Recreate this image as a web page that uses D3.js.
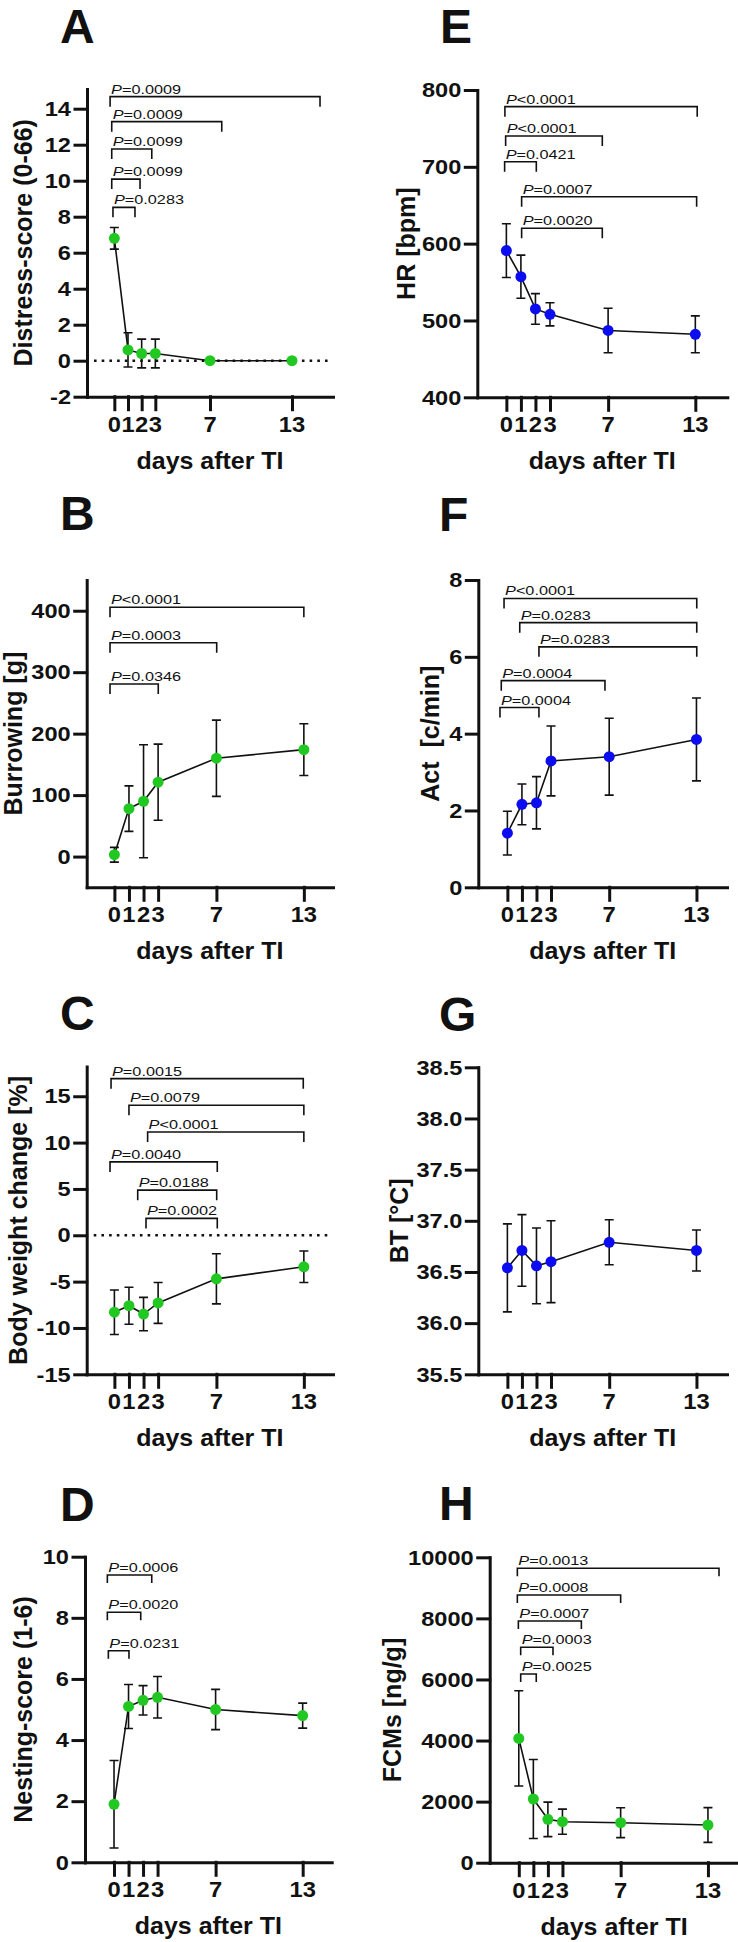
<!DOCTYPE html>
<html><head><meta charset="utf-8">
<script src="https://cdn.jsdelivr.net/npm/d3@7"></script>
<style>body{margin:0;background:#fff;} svg{display:block;}</style>
</head><body>
<script>
// ---------- DATA ----------
const days = [0, 1, 2, 3, 7, 13];

const distressMean = [6.8, 0.6, 0.4, 0.4, 0, 0];
const distressErr  = [0.6, 0.95, 0.8, 0.8, 0, 0];
const distressTicks = [-2, 0, 2, 4, 6, 8, 10, 12, 14];
const distressBrackets = [
  [-0.31, 15.05, 14.67, "P=0.0009"],
  [-0.19, 7.86, 13.28, "P=0.0009"],
  [-0.19, 2.74, 11.76, "P=0.0099"],
  [-0.19, 1.88, 10.09, "P=0.0099"],
  [-0.10, 1.51, 8.52, "P=0.0283"]
];

const burrowMean = [3, 78, 90, 121, 160, 174];
const burrowErr  = [12, 37, 92, 62, 62, 42];
const burrowTicks = [0, 100, 200, 300, 400];
const burrowBrackets = [
  [-0.3, 13.0, 405.6, "P<0.0001"],
  [-0.3, 7.02, 348, "P=0.0003"],
  [-0.3, 3.01, 280.8, "P=0.0346"]
];

const weightMean = [-8.3, -7.6, -8.5, -7.3, -4.7, -3.4];
const weightErr  = [2.4, 2.0, 1.8, 2.2, 2.7, 1.7];
const weightTicks = [-15, -10, -5, 0, 5, 10, 15];
const weightBrackets = [
  [-0.23, 12.96, 16.9, "P=0.0015"],
  [1.0, 13.0, 14.03, "P=0.0079"],
  [2.28, 13.0, 11.15, "P<0.0001"],
  [-0.3, 7.06, 7.92, "P=0.0040"],
  [1.6, 7.02, 4.87, "P=0.0188"],
  [2.17, 7.06, 1.82, "P=0.0002"]
];

const nestMean = [1.9, 5.1, 5.3, 5.4, 5.0, 4.8];
const nestErr  = [1.43, 0.72, 0.48, 0.68, 0.66, 0.41];
const nestTicks = [0, 2, 4, 6, 8, 10];
const nestBrackets = [
  [-0.46, 2.6, 9.4, "P=0.0006"],
  [-0.46, 1.84, 8.18, "P=0.0020"],
  [-0.39, 1.03, 6.92, "P=0.0231"]
];

const hrMean = [591, 557, 515, 508, 487, 482];
const hrErr  = [35, 28, 20, 15, 29, 24];
const hrTicks = [400, 500, 600, 700, 800];
const hrBrackets = [
  [-0.1, 13.13, 778.3, "P<0.0001"],
  [-0.05, 6.6, 740.1, "P<0.0001"],
  [-0.12, 2.06, 706.7, "P=0.0421"],
  [1.05, 13.09, 661.1, "P=0.0007"],
  [1.05, 6.6, 620, "P=0.0020"]
];

const actMean = [1.41, 2.16, 2.2, 3.29, 3.4, 3.85];
const actErr  = [0.57, 0.53, 0.68, 0.91, 1.0, 1.08];
const actTicks = [0, 2, 4, 6, 8];
const actBrackets = [
  [-0.23, 13.02, 7.52, "P<0.0001"],
  [0.85, 13.02, 6.89, "P=0.0283"],
  [2.17, 13.02, 6.26, "P=0.0283"],
  [-0.42, 6.71, 5.38, "P=0.0004"],
  [-0.51, 2.17, 4.68, "P=0.0004"]
];

const btMean = [36.54, 36.71, 36.56, 36.6, 36.79, 36.71];
const btErr  = [0.43, 0.35, 0.37, 0.4, 0.22, 0.2];
const btTicks = [35.5, 36.0, 36.5, 37.0, 37.5, 38.0, 38.5];
const btBrackets = [];

const fcmMean = [4070, 2086, 1420, 1343, 1310, 1234];
const fcmErr  = [1560, 1295, 565, 410, 490, 570];
const fcmTicks = [0, 2000, 4000, 6000, 8000, 10000];
const fcmBrackets = [
  [-0.1, 13.76, 9641, "P=0.0013"],
  [-0.1, 7.0, 8767, "P=0.0008"],
  [-0.03, 4.3, 7916, "P=0.0007"],
  [0.13, 2.35, 7054, "P=0.0003"],
  [0.13, 1.2, 6180, "P=0.0025"]
];

// ---------- STYLE / LAYOUT ----------
const GREEN = "#22c822", BLUE = "#0c0cf0", INK = "#111";
const FONT = "'Liberation Sans', Arial, Helvetica, sans-serif";
const intFmt = v => String(v);
const oneDec = v => v.toFixed(1);

const panels = [
  {letter:"A", mean:distressMean, err:distressErr, ticks:distressTicks, brackets:distressBrackets, color:GREEN,
   yTitle:"Distress-score (0-66)", xDom:[-2,16], xRng:[87,333], yDom:[-2,15.1], yRng:[396.7,88.9],
   letterPos:[60,43], yTitleX:23, zero:true, leg:10, fmt:intFmt},
  {letter:"B", mean:burrowMean, err:burrowErr, ticks:burrowTicks, brackets:burrowBrackets, color:GREEN,
   yTitle:"Burrowing [g]", xDom:[-1.9,15], xRng:[86.7,333], yDom:[-50,450], yRng:[887.3,580],
   letterPos:[60,530], yTitleX:13, zero:false, leg:10, fmt:intFmt},
  {letter:"C", mean:weightMean, err:weightErr, ticks:weightTicks, brackets:weightBrackets, color:GREEN,
   yTitle:"Body weight change [%]", xDom:[-1.9,15], xRng:[86.7,333], yDom:[-15,18.2], yRng:[1374.3,1066.6],
   letterPos:[60,1030], yTitleX:18, zero:true, leg:10, fmt:intFmt},
  {letter:"D", mean:nestMean, err:nestErr, ticks:nestTicks, brackets:nestBrackets, color:GREEN,
   yTitle:"Nesting-score (1-6)", xDom:[-2,15], xRng:[85,331.7], yDom:[0,10], yRng:[1862.3,1556.7],
   letterPos:[60,1521], yTitleX:23, zero:false, leg:8, fmt:intFmt},
  {letter:"E", mean:hrMean, err:hrErr, ticks:hrTicks, brackets:hrBrackets, color:BLUE,
   yTitle:"HR [bpm]", xDom:[-2,15.2], xRng:[477.3,727.3], yDom:[400,800], yRng:[397.3,90],
   letterPos:[440,43], yTitleX:406, zero:false, leg:10, fmt:intFmt},
  {letter:"F", mean:actMean, err:actErr, ticks:actTicks, brackets:actBrackets, color:BLUE,
   yTitle:"Act  [c/min]", xDom:[-2,15.1], xRng:[478.3,727], yDom:[0,8], yRng:[887.3,580],
   letterPos:[439,531], yTitleX:430, zero:false, leg:10, fmt:intFmt},
  {letter:"G", mean:btMean, err:btErr, ticks:btTicks, brackets:btBrackets, color:BLUE,
   yTitle:"BT [°C]", xDom:[-2,15.1], xRng:[478.3,727], yDom:[35.5,38.5], yRng:[1374.3,1067.3],
   letterPos:[439,1031], yTitleX:399, zero:false, leg:10, fmt:oneDec},
  {letter:"H", mean:fcmMean, err:fcmErr, ticks:fcmTicks, brackets:fcmBrackets, color:GREEN,
   yTitle:"FCMs [ng/g]", xDom:[-2,15.1], xRng:[489.7,738.5], yDom:[0,10000], yRng:[1862.7,1557.3],
   letterPos:[439,1520], yTitleX:392, zero:false, leg:8, fmt:intFmt}
];

const svg = d3.select("body").append("svg")
  .attr("width", 738).attr("height", 1942)
  .style("font-family", FONT);

function stext(g, x, y, str, o) {
  const t = g.append("text")
    .attr("transform", `translate(${x},${y}) scale(${o.sx || 1},1)`)
    .attr("text-anchor", o.anchor || "start")
    .attr("font-size", o.size)
    .attr("font-weight", o.weight || "normal")
    .attr("fill", INK);
  if (o.dy) t.attr("dy", o.dy);
  if (o.italicP) {
    t.append("tspan").attr("font-style", "italic").text(str[0]);
    t.append("tspan").text(str.slice(1));
  } else t.text(str);
  return t;
}

panels.forEach(p => {
  const g = svg.append("g");
  const x = d3.scaleLinear().domain(p.xDom).range(p.xRng);
  const y = d3.scaleLinear().domain(p.yDom).range(p.yRng);
  const bottom = p.yRng[0], left = p.xRng[0];

  // panel letter
  stext(g, p.letterPos[0], p.letterPos[1], p.letter, {size: 48, weight: "bold"});

  // zero dotted line
  if (p.zero) {
    g.append("line")
      .attr("x1", left + 7).attr("x2", p.xRng[1] - 5)
      .attr("y1", y(0)).attr("y2", y(0))
      .attr("stroke", INK).attr("stroke-width", 2.6)
      .attr("stroke-dasharray", "2.6,5.1");
  }

  // brackets
  p.brackets.forEach(b => {
    const x1 = x(b[0]), x2 = x(b[1]), yy = y(b[2]);
    g.append("path")
      .attr("d", `M${x1},${yy + p.leg}V${yy}H${x2}V${yy + p.leg}`)
      .attr("fill", "none").attr("stroke", INK).attr("stroke-width", 1.6);
    stext(g, x1 + 1, yy - 3, b[3], {size: 13, sx: 1.25, italicP: true});
  });

  // axes
  const ya = g.append("g").attr("transform", `translate(${left},0)`)
    .call(d3.axisLeft(y).tickValues(p.ticks).tickSize(12).tickSizeOuter(0).tickFormat(""));
  const xa = g.append("g").attr("transform", `translate(0,${bottom})`)
    .call(d3.axisBottom(x).tickValues(days).tickSize(13).tickSizeOuter(0).tickFormat(""));
  [ya, xa].forEach(a => {
    a.selectAll("path,line").attr("stroke", INK).attr("stroke-width", 3).attr("stroke-linecap", "square");
  });

  // tick labels
  p.ticks.forEach(v => {
    stext(g, left - 16, y(v), p.fmt(v), {size: 20, weight: "bold", sx: 1.18, anchor: "end", dy: "0.36em"});
  });
  days.forEach(d => {
    stext(g, x(d), bottom + 35, String(d), {size: 22, weight: "bold", sx: 1.08, anchor: "middle"});
  });

  // axis titles
  stext(g, (p.xRng[0] + p.xRng[1]) / 2, bottom + 72, "days after TI", {size: 24, weight: "bold", sx: 1.04, anchor: "middle"});
  g.append("text")
    .attr("transform", `translate(${p.yTitleX},${(p.yRng[0] + p.yRng[1]) / 2}) rotate(-90)`)
    .attr("text-anchor", "middle").attr("dominant-baseline", "central")
    .attr("font-size", 25).attr("font-weight", "bold").attr("fill", INK)
    .style("white-space", "pre")
    .text(p.yTitle);

  // error bars
  const pts = days.map((d, i) => ({d, m: p.mean[i], e: p.err[i]}));
  const eb = g.append("g").attr("stroke", INK).attr("stroke-width", 1.6).attr("fill", "none");
  pts.filter(q => q.e > 0).forEach(q => {
    const cx = x(q.d), yt = y(q.m + q.e), yb = y(q.m - q.e);
    eb.append("path").attr("d", `M${cx},${yt}V${yb}M${cx - 4.5},${yt}H${cx + 4.5}M${cx - 4.5},${yb}H${cx + 4.5}`);
  });

  // line
  g.append("path").datum(pts)
    .attr("d", d3.line().x(q => x(q.d)).y(q => y(q.m)))
    .attr("fill", "none").attr("stroke", INK).attr("stroke-width", 1.6);

  // dots
  g.selectAll("circle.dot").data(pts).join("circle")
    .attr("class", "dot")
    .attr("cx", q => x(q.d)).attr("cy", q => y(q.m)).attr("r", 5.5)
    .attr("fill", p.color);
});
</script>
</body></html>
